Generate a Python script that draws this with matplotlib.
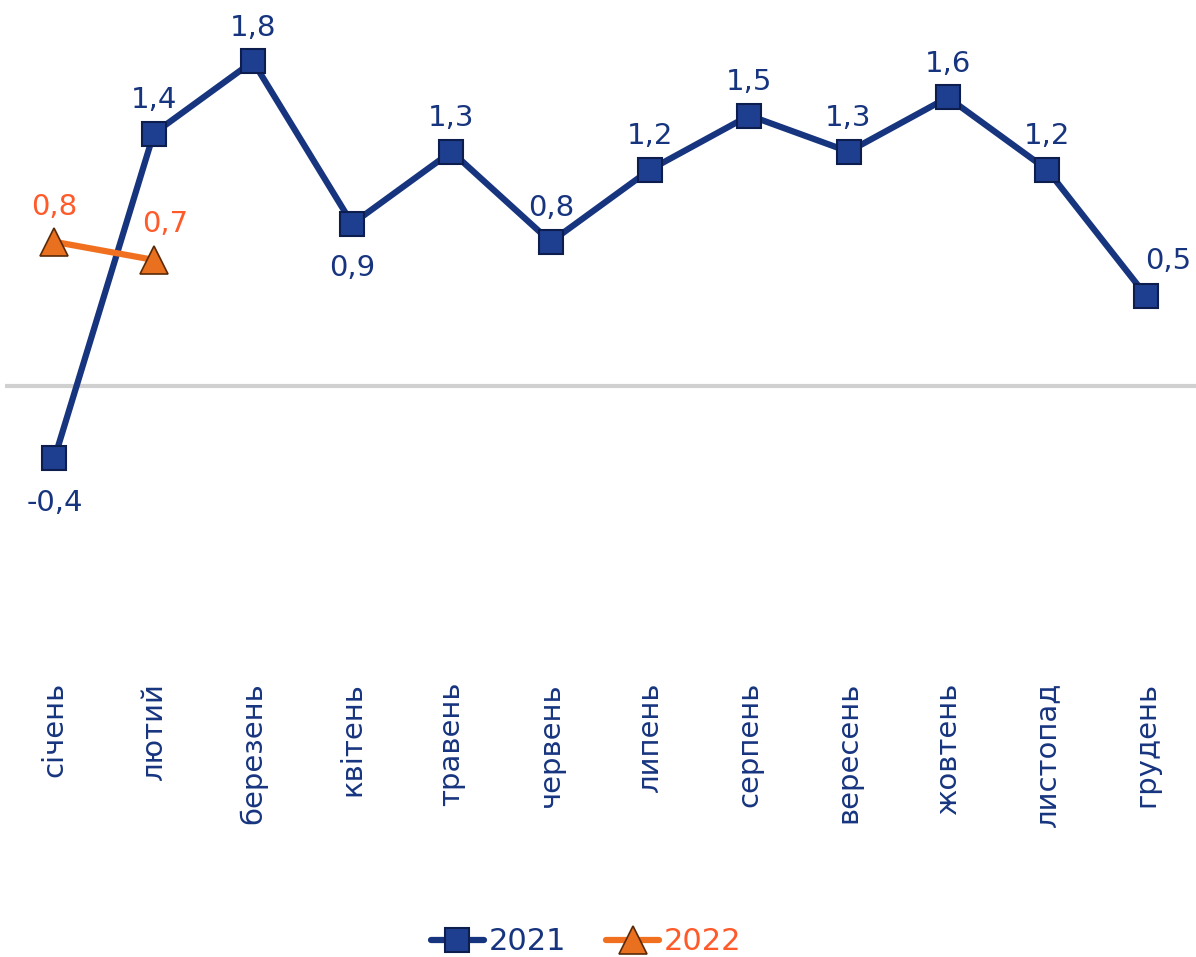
import matplotlib
matplotlib.use("Agg")
import matplotlib.pyplot as plt

months = ["січень", "лютий", "березень", "квітень", "травень", "червень",
          "липень", "серпень", "вересень", "жовтень", "листопад", "грудень"]
values_2021 = [-0.4, 1.4, 1.8, 0.9, 1.3, 0.8, 1.2, 1.5, 1.3, 1.6, 1.2, 0.5]
values_2022 = [0.8, 0.7]

navy = "#17357F"
orange = "#F07020"
orange_text = "#FF5A2A"

plt.rcParams['font.family'] = ['DejaVu Sans']
fig = plt.figure(figsize=(11.96, 9.57), dpi=100)
ax = fig.add_axes([0.004, 1 - 675 / 957, 0.996, 675 / 957])
ax.set_xlim(-0.5, 11.5)
ax.set_ylim(-1.6, 2.14)
for s in ax.spines.values():
    s.set_visible(False)
ax.set_yticks([])
ax.axhline(0, color="#D0D0D0", lw=3, zorder=1)

x21 = list(range(len(values_2021)))
x22 = list(range(len(values_2022)))
l1, = ax.plot(x21, values_2021, color=navy, lw=4.5, marker="s", ms=17,
              mfc="#1E3F8F", mec="#0C1D4E", mew=1.5, zorder=3, label="2021",
              solid_capstyle="round")
l2, = ax.plot(x22, values_2022, color=orange, lw=4.5, marker="^", ms=20,
              mfc="#E8701E", mec="#5A2A08", mew=1.2, zorder=4, label="2022",
              solid_capstyle="round")

def fmt(v):
    return f"{v:.1f}".replace(".", ",")

fs = 21
below = {0, 3}
for i, v in enumerate(values_2021):
    if i in below:
        ax.annotate(fmt(v), (i, v), xytext=(0, -22), textcoords="offset points",
                    ha="center", va="top", fontsize=fs, color=navy)
    elif i == 11:
        ax.annotate(fmt(v), (i, v), xytext=(16, 15), textcoords="offset points",
                    ha="center", va="bottom", fontsize=fs, color=navy)
    else:
        ax.annotate(fmt(v), (i, v), xytext=(0, 14), textcoords="offset points",
                    ha="center", va="bottom", fontsize=fs, color=navy)
offs22 = [(0, 15), (8, 16)]
for i, v in enumerate(values_2022):
    ax.annotate(fmt(v), (i, v), xytext=offs22[i], textcoords="offset points",
                ha="center", va="bottom", fontsize=fs, color=orange_text)

ax.set_xticks(x21)
ax.set_xticklabels(months, rotation=90, fontsize=21, color=navy, va="top")
ax.tick_params(axis="x", length=0, pad=5)

leg = fig.legend(handles=[l1, l2], loc="center", bbox_to_anchor=(0.49, 1 - 942 / 957),
                 ncol=2, frameon=False, fontsize=22, handlelength=1.75,
                 columnspacing=1.3, handletextpad=0.15, borderaxespad=0, borderpad=0)
for t, c in zip(leg.get_texts(), [navy, orange_text]):
    t.set_color(c)

fig.savefig("out.png", dpi=100)
